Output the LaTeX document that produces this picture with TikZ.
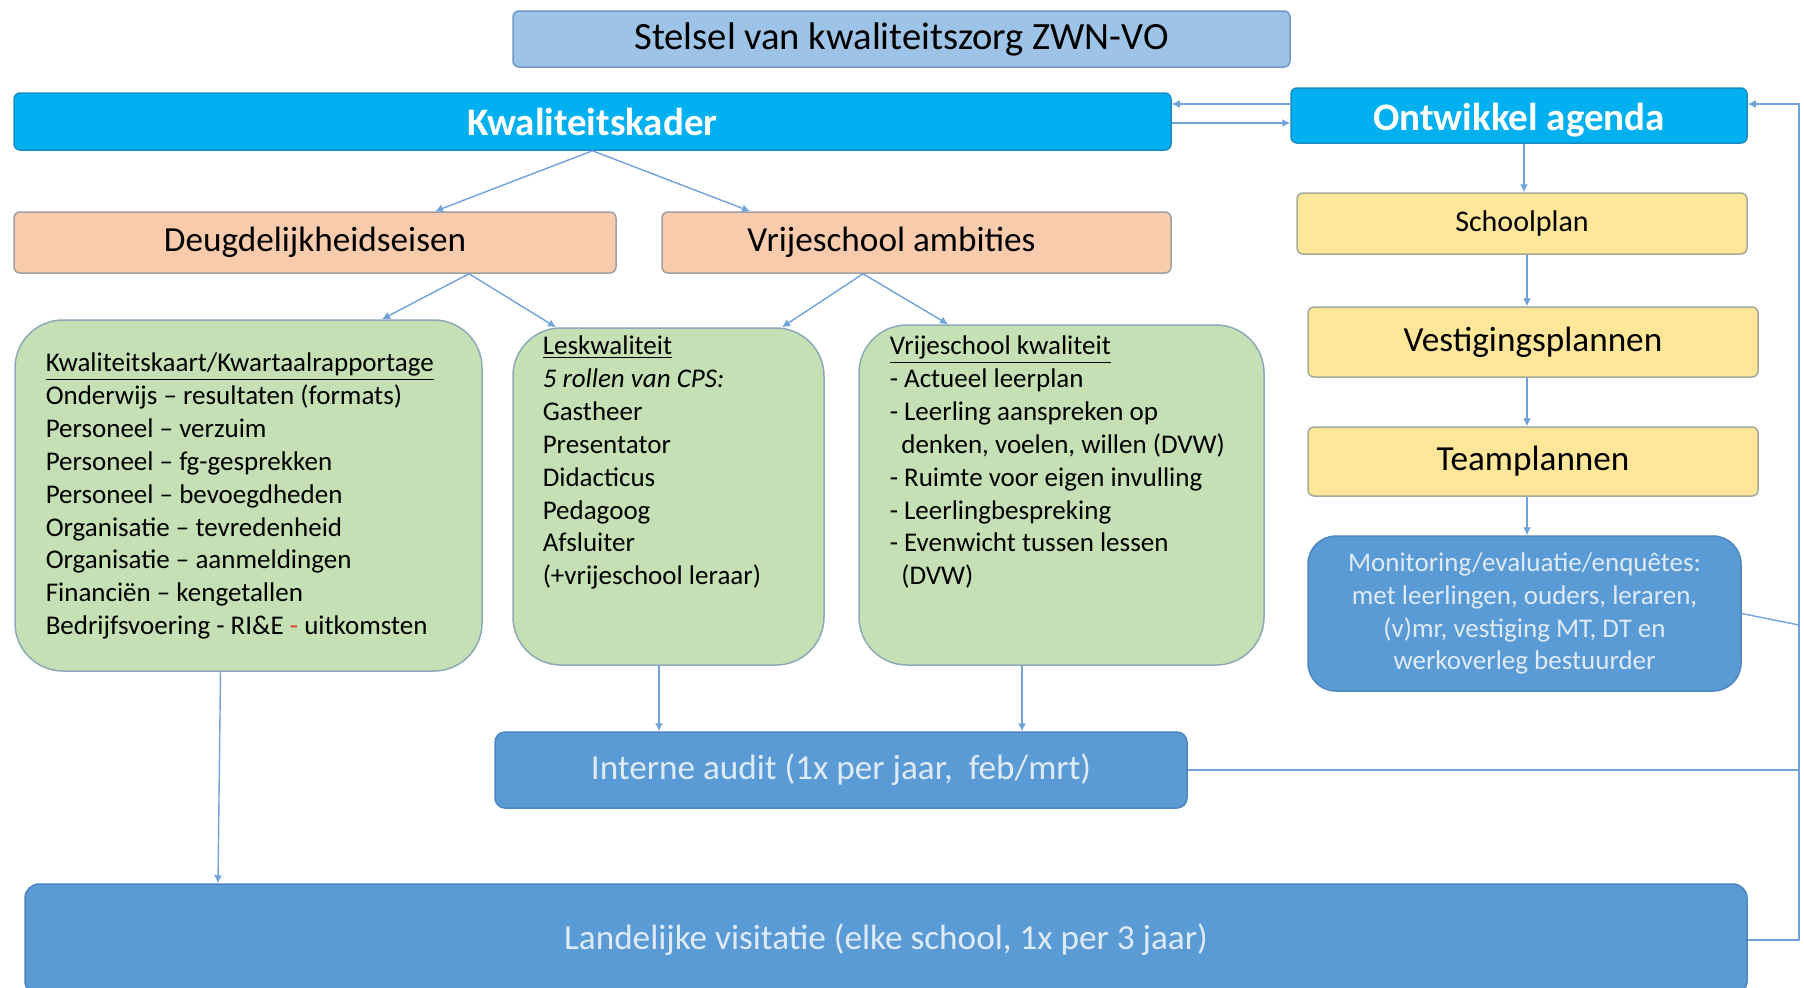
\documentclass[tikz,border=0pt]{standalone}
\usepackage{fontspec}
\setmainfont{Carlito}
\usepackage{xcolor}
\usetikzlibrary{calc, arrows.meta}

\definecolor{titlefill}{HTML}{9DC3E6}
\definecolor{titledraw}{HTML}{7196C7}
\definecolor{kaderfill}{HTML}{00B0F0}
\definecolor{kaderdraw}{HTML}{1A8CC4}
\definecolor{orangefill}{HTML}{F8CBAD}
\definecolor{orangedraw}{HTML}{A0A0A0}
\definecolor{greenfill}{HTML}{C5E0B4}
\definecolor{greendraw}{HTML}{8EA9B9}
\definecolor{yellowfill}{HTML}{FFE699}
\definecolor{yellowdraw}{HTML}{A3AA98}
\definecolor{bluefill}{HTML}{5B9BD5}
\definecolor{bluedraw}{HTML}{4F86BF}
\definecolor{lighttext}{HTML}{DEEBF7}
\definecolor{linkblue}{HTML}{6FA3D9}
\definecolor{dashred}{HTML}{E0452B}

\begin{document}
\begin{tikzpicture}[x=0.5pt, y=-0.5pt, line width=0.75pt,
    box/.style={draw, rounded corners=3pt, inner sep=0pt, align=center},
    bigfont/.style={font=\fontsize{17.6}{21}\selectfont},
    smallfont/.style={font=\fontsize{13.5}{16.45}\selectfont},
    greenbox/.style={box, fill=greenfill, draw=greendraw, rounded corners=24pt},
    listtext/.style={smallfont, inner sep=0pt, align=left, anchor=north west},
    conn/.style={draw=linkblue, line width=0.7pt, -{Latex[length=4pt, width=4pt]}},
    link/.style={draw=linkblue, line width=0.7pt}]
    \useasboundingbox (0,0) rectangle (1804,987);
    \clip (0,0) rectangle (1804,987);

    % draw top boxes
    \node[box, fill=titlefill, draw=titledraw, minimum width=388.5pt, minimum height=28pt,
        font=\fontsize{19.3}{23}\selectfont] (title) at (901.5,39) {Stelsel van kwaliteitszorg ZWN-VO};
    \node[box, fill=kaderfill, draw=kaderdraw, text=white, minimum width=578.5pt, minimum height=28.5pt,
        font=\fontsize{19.5}{23}\selectfont\bfseries] (kader) at (592.5,121.5) {Kwaliteitskader};
    \node[box, fill=kaderfill, draw=kaderdraw, text=white, minimum width=228pt, minimum height=27.5pt,
        text height=16pt, text depth=1pt,
        font=\fontsize{19.5}{23}\selectfont\bfseries] (agenda) at (1519,115.5) {Ontwikkel agenda};

    % draw orange boxes
    \node[box, bigfont, fill=orangefill, draw=orangedraw, minimum width=301pt, minimum height=30.5pt] (deugd) at (315,242.5) {Deugdelijkheidseisen};
    \node[box, bigfont, fill=orangefill, draw=orangedraw, minimum width=254.5pt, minimum height=30.5pt] (ambities) at (916.5,242.5) {Vrijeschool ambities\hspace*{25pt}};

    % draw yellow boxes
    \node[box, fill=yellowfill, draw=yellowdraw, minimum width=225pt, minimum height=30.5pt,
        font=\fontsize{15}{18}\selectfont] (schoolplan) at (1522,223.5) {Schoolplan};
    \node[box, bigfont, fill=yellowfill, draw=yellowdraw, minimum width=225pt, minimum height=35pt] (vestiging) at (1533,342) {Vestigingsplannen};
    \node[box, bigfont, fill=yellowfill, draw=yellowdraw, minimum width=225pt, minimum height=34.5pt] (team) at (1533,461.5) {Teamplannen};
    \node[box, smallfont, fill=bluefill, draw=bluedraw, text=lighttext, rounded corners=14pt,
        minimum width=216.5pt, minimum height=77.5pt] (monitoring) at (1524.5,613.5)
        {Monitoring/evaluatie/enquêtes:\\met leerlingen, ouders, leraren,\\(v)mr, vestiging MT, DT en\\werkoverleg bestuurder};

    % draw green boxes
    \node[greenbox, minimum width=233.5pt, minimum height=175.5pt] (kaart) at (248.5,495.5) {};
    \node[greenbox, minimum width=155.5pt, minimum height=168.5pt] (les) at (668.5,496.5) {};
    \node[greenbox, minimum width=202.5pt, minimum height=170pt] (vkwal) at (1061.5,495) {};

    \node[listtext] (kaarttxt) at (45,352) {\underline{Kwaliteitskaart/Kwartaalrapportage}\\
        Onderwijs – resultaten (formats)\\
        Personeel – verzuim\\
        Personeel – fg-gesprekken\\
        Personeel – bevoegdheden\\
        Organisatie – tevredenheid\\
        Organisatie – aanmeldingen\\
        Financiën – kengetallen\\
        Bedrijfsvoering - RI\&E {\color{dashred}-} uitkomsten};
    \node[listtext] (lestxt) at (542,335) {\underline{Leskwaliteit}\\
        \textit{5 rollen van CPS:}\\
        Gastheer\\
        Presentator\\
        Didacticus\\
        Pedagoog\\
        Afsluiter\\
        (+vrijeschool leraar)};
    \node[listtext] (vkwaltxt) at (889,335) {\underline{Vrijeschool kwaliteit}\\
        - Actueel leerplan\\
        - Leerling aanspreken op\\
        \hspace*{5.8pt}denken, voelen, willen (DVW)\\
        - Ruimte voor eigen invulling\\
        - Leerlingbespreking\\
        - Evenwicht tussen lessen\\
        \hspace*{5.8pt}(DVW)};

    % draw bottom boxes
    \node[box, bigfont, fill=bluefill, draw=bluedraw, text=lighttext, rounded corners=5pt,
        minimum width=346pt, minimum height=38pt] (audit) at (841,770) {Interne audit (1x per jaar,\ \ feb/mrt)};
    \node[box, bigfont, fill=bluefill, draw=bluedraw, text=lighttext, rounded corners=7pt,
        minimum width=861pt, minimum height=55.5pt] (visitatie) at (886,939.5) {Landelijke visitatie (elke school, 1x per 3 jaar)};

    % draw connectors
    \draw[conn] (kader.south) -- ($(deugd.north)+(120,0)$);
    \draw[conn] (kader.south) -- ($(ambities.north)+(-166.5,0)$);
    \draw[conn] ($(deugd.south)+(154,0)$) -- ($(kaart.north)+(133.5,0)$);
    \draw[conn] ($(deugd.south)+(154,0)$) -- ($(les.north)+(-112.5,0)$);
    \draw[conn] ($(ambities.south)+(-53.5,0)$) -- ($(les.north)+(113.5,0)$);
    \draw[conn] ($(ambities.south)+(-53.5,0)$) -- ($(vkwal.north)+(-113.5,0)$);

    \draw[conn] ($(agenda.south)+(5,0)$) -- ($(schoolplan.north)+(2,0)$);
    \draw[conn] ($(schoolplan.south)+(5,0)$) -- ($(vestiging.north)+(-6,0)$);
    \draw[conn] ($(vestiging.south)+(-6,0)$) -- ($(team.north)+(-6,0)$);
    \draw[conn] ($(team.south)+(-6,0)$) -- ($(monitoring.north)+(2.5,0)$);

    \draw[conn] ($(kaart.south)+(-28,0)$) -- ($(visitatie.north)+(-668,0)$);
    \draw[conn] ($(les.south)+(-9.5,0)$) -- ($(audit.north)+(-182,0)$);
    \draw[conn] ($(vkwal.south)+(-39.5,0)$) -- ($(audit.north)+(181,0)$);

    % draw feedback loop
    \coordinate (rtop) at (1799,104);
    \coordinate (rbot) at (1799,940);
    \coordinate (rmon) at (1799,625);
    \coordinate (kmid) at (1230,123);
    \draw[conn] (visitatie.east |- rbot) -- (rbot) -- (rtop) -- (agenda.east |- rtop);
    \draw[link] (audit.east) -- (audit.east -| rtop);
    \draw[link] (monitoring.east) -- (rmon);
    \draw[conn] (agenda.west |- rtop) -- (kader.east |- rtop);
    \draw[conn] (kader.east |- kmid) -- (agenda.west |- kmid);
\end{tikzpicture}
\end{document}
